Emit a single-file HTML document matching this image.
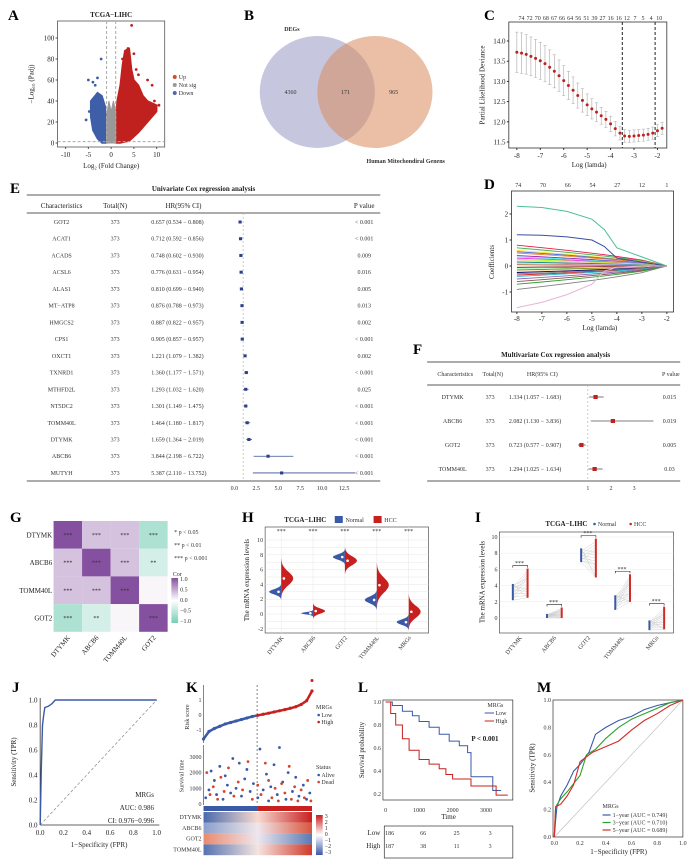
<!DOCTYPE html>
<html><head><meta charset="utf-8">
<style>
html,body{margin:0;padding:0;background:#fff;}
svg{display:block;font-family:"Liberation Serif",serif;}
.pl{font-size:15px;font-weight:bold;}
.t{font-size:7px;fill:#222;}
.s{font-size:6px;fill:#333;}
</style></head>
<body>
<svg id="fig" width="692" height="865" viewBox="0 0 692 865">
<g>
<text class="pl" x="8" y="20">A</text><text class="pl" x="244" y="20">B</text><text class="pl" x="484" y="20">C</text>
<text class="pl" x="10" y="193">E</text><text class="pl" x="484" y="189">D</text><text class="pl" x="413" y="354">F</text>
<text class="pl" x="10" y="522">G</text><text class="pl" x="242" y="522">H</text><text class="pl" x="475" y="522">I</text>
<text class="pl" x="12" y="692">J</text><text class="pl" x="186" y="692">K</text><text class="pl" x="358" y="692">L</text><text class="pl" x="537" y="692">M</text>
</g>
<g id="A"></g>
<g id="B"></g>
<g id="C"></g>
<g id="D"></g>
<g id="E"></g>
<g id="F"></g>
<g id="G"></g>
<g id="H"></g>
<g id="I"></g>
<g id="J"></g>
<g id="K"></g>
<g id="L"></g>
<g id="M"></g>
</svg>
<script>
// ---------- data ----------
const volRed=[[1,0],[1,20],[1.3,40],[2,55],[2.5,75],[3,88],[4,90],[4.5,70],[5,60],[6,55],[7,45],[8,40],[9,38],[10,36],[10,30],[8,20],[6,10],[4,2],[2,0]];
const volBlue=[[-1,0],[-1,20],[-1.3,35],[-2,45],[-3,48],[-4.5,40],[-4.5,25],[-4,12],[-3,4],[-2,0]];
const volGrey=[[-1,0],[-1,25],[-0.5,40],[0,30],[0.5,40],[1,30],[1,0]];
const volRedPts=[[4.5,112],[3.7,90],[5,85],[6,65],[8,60],[9,55],[10.5,36],[7,30],[6.5,48],[5.5,70],[2.5,80],[9.5,40]];
const volBluePts=[[-2.2,80],[-5,60],[-4,58],[-3.5,55],[-4.8,30],[-5.5,22],[-3,62]];
const cvMean=[13.72,13.70,13.67,13.62,13.57,13.51,13.44,13.35,13.25,13.14,13.02,12.90,12.78,12.65,12.53,12.42,12.32,12.24,12.15,12.06,11.95,11.83,11.72,11.65,11.64,11.65,11.66,11.67,11.69,11.72,11.78,11.84];
const cvErr=[0.5,0.5,0.49,0.48,0.47,0.46,0.45,0.43,0.41,0.39,0.37,0.35,0.33,0.31,0.29,0.27,0.25,0.23,0.21,0.2,0.19,0.18,0.17,0.16,0.15,0.15,0.15,0.15,0.15,0.15,0.15,0.15];
const cvTop=["74","72","70","68","67","66","64","56","51","39","27","16","16","12","7","5","4","10"];
const coefStart=[0.8,0.7,0.6,0.55,0.5,0.4,0.35,0.3,0.25,0.2,0.15,0.1,0.05,-0.05,-0.1,-0.15,-0.2,-0.25,-0.3,-0.35,-0.4,-0.5,-0.6,-0.7,-0.9];
const coefGreen=[2.3,2.25,2.1,1.8,1.4,0.7,0.35,0];
const coefBlue=[1.2,1.18,1.12,1.0,0.75,0.3,0.15,0];
const coefPink=[-1.6,-1.4,-1.1,-0.7,-0.2,-0.05,0,0];
const coefX=[-8,-7,-6,-5,-4.5,-4,-3,-2];
const uniNames=["GOT2","ACAT1","ACADS","ACSL6","ALAS1","MT−ATP8","HMGCS2","CPS1","OXCT1","TXNRD1","MTHFD2L","NT5DC2","TOMM40L","DTYMK","ABCB6","MUTYH"];
const uniHR=[0.657,0.712,0.748,0.776,0.810,0.876,0.887,0.905,1.221,1.360,1.293,1.301,1.464,1.659,3.844,5.387];
const uniLo=[0.534,0.592,0.602,0.631,0.699,0.788,0.822,0.857,1.079,1.177,1.032,1.149,1.180,1.364,2.198,2.110];
const uniHi=[0.808,0.856,0.930,0.954,0.940,0.973,0.957,0.957,1.382,1.571,1.620,1.475,1.817,2.019,6.722,13.752];
const uniP=["< 0.001","< 0.001","0.009","0.016","0.005","0.013","0.002","< 0.001","0.002","< 0.001","0.025","< 0.001","< 0.001","< 0.001","< 0.001","< 0.001"];
const uniTicks=[0,2.5,5,7.5,10,12.5];
const mulNames=["DTYMK","ABCB6","GOT2","TOMM40L"];
const mulHR=[1.334,2.082,0.723,1.294];
const mulLo=[1.057,1.130,0.577,1.025];
const mulHi=[1.683,3.836,0.907,1.634];
const mulP=["0.015","0.019","0.005","0.03"];
const mulTicks=[1,2,3];
const corGenes=["DTYMK","ABCB6","TOMM40L","GOT2"];
const corVals=[[1,0.35,0.35,-0.38],[0.35,1,0.35,-0.2],[0.35,0.35,1,0.05],[-0.38,-0.2,0.05,1]];
const corStars=[["***","***","***","***"],["***","***","***","**"],["***","***","***",""],["***","**","","***"]];
const vCats=["DTYMK","ABCB6","GOT2","TOMM40L","MRGs"];
const vNormMed=[3,0.1,7.7,1.9,-1.1];
const vHccMed=[4.8,0.4,7.2,3.9,0.3];
const vNormSd=[0.35,0.15,0.35,0.45,0.35];
const vHccSd=[0.9,0.35,0.6,1.0,0.8];
const pNormLo=[2.2,0,6.9,1,-1.5], pNormHi=[4.2,0.5,8.6,2.8,-0.3];
const pHccLo=[2.5,0,5,2,-1.4], pHccHi=[6.1,1.3,9.8,5.4,1.4];
const rocJ=[[0,0],[0.01,0.45],[0.02,0.8],[0.03,0.88],[0.04,0.94],[0.07,0.95],[0.1,0.97],[0.13,1],[1,1]];
const riskQ=[-1.6,-1.1,-0.9,-0.75,-0.6,-0.5,-0.4,-0.3,-0.2,-0.1,-0.02,0.05,0.12,0.2,0.28,0.36,0.45,0.55,0.7,0.95,1.6];
const survAlive=[[0.02,400],[0.05,900],[0.07,2100],[0.1,1500],[0.12,600],[0.15,2400],[0.18,300],[0.2,1800],[0.22,1200],[0.25,700],[0.27,2900],[0.3,1000],[0.33,2600],[0.35,500],[0.38,1600],[0.4,2200],[0.43,800],[0.46,1300],[0.5,400],[0.52,3500],[0.55,900],[0.58,1900],[0.6,200],[0.62,1100],[0.65,2500],[0.68,600],[0.7,3600],[0.73,1400],[0.76,300],[0.78,2000],[0.82,800],[0.85,1700],[0.88,500],[0.92,1200],[0.95,300],[0.98,700]];
const survDead=[[0.03,2000],[0.06,600],[0.09,1100],[0.13,300],[0.16,1700],[0.19,800],[0.23,2300],[0.28,500],[0.32,1400],[0.36,900],[0.41,2700],[0.45,300],[0.5,1200],[0.53,600],[0.57,2600],[0.6,1500],[0.63,400],[0.66,1000],[0.69,200],[0.72,1300],[0.75,700],[0.79,2400],[0.81,300],[0.84,1100],[0.87,200],[0.9,900],[0.93,400],[0.96,1500],[0.99,200]];
const kmLow=[[0,1],[200,0.97],[500,0.92],[800,0.88],[1000,0.83],[1300,0.78],[1600,0.72],[1900,0.66],[2200,0.62],[2450,0.56],[2550,0.35],[3000,0.35],[3200,0.23],[3450,0.23]];
const kmHigh=[[0,1],[150,0.9],[300,0.8],[500,0.68],[700,0.58],[1000,0.5],[1300,0.46],[1600,0.42],[1800,0.37],[2000,0.33],[2500,0.33],[2550,0.27],[3150,0.27],[3300,0.19],[3650,0.19]];
const kmTicks=[0,1000,2000,3000];
const riskLow=["186","66","25","3"], riskHigh=["187","38","11","3"];
const roc1=[[0,0],[0.01,0.12],[0.02,0.22],[0.05,0.3],[0.1,0.38],[0.15,0.48],[0.2,0.53],[0.27,0.62],[0.32,0.75],[0.4,0.8],[0.5,0.85],[0.6,0.88],[0.7,0.93],[0.8,0.96],[0.9,0.98],[1,1]];
const roc3=[[0,0],[0.01,0.22],[0.05,0.28],[0.1,0.33],[0.2,0.45],[0.25,0.6],[0.32,0.64],[0.4,0.72],[0.5,0.8],[0.6,0.86],[0.7,0.9],[0.8,0.94],[0.9,0.98],[1,1]];
const roc5=[[0,0],[0.01,0.22],[0.05,0.24],[0.1,0.3],[0.15,0.38],[0.2,0.55],[0.3,0.62],[0.4,0.66],[0.5,0.7],[0.6,0.78],[0.7,0.85],[0.8,0.9],[0.9,0.96],[1,1]];
const rocTicks=[0,0.2,0.4,0.6,0.8,1.0];

// ---------- helpers ----------
const NS="http://www.w3.org/2000/svg";
const KX=1.339;
const X=v=>v*KX;
const XATTR={x:1,x1:1,x2:1,cx:1,width:1,rx:1};
function mk(tag,parent,attrs){const e=document.createElementNS(NS,tag);for(const k in attrs){let v=attrs[k];if(XATTR[k]&&typeof v==='number')v=(v*KX).toFixed(2);e.setAttribute(k,v);}parent.appendChild(e);return e;}
function tx(parent,x,y,s,cls,extra){const e=mk('text',parent,Object.assign({x:x,y:y,class:cls||'t'},extra||{}));e.textContent=s;return e;}
function rot(x,y,a){return `translate(${X(x).toFixed(1)},${y}) rotate(${a})`;}
function poly(pts,fx,fy){return pts.map((p,i)=>(i?'L':'M')+X(fx(p[0])).toFixed(1)+','+fy(p[1]).toFixed(1)).join('')+'Z';}
function line(pts,fx,fy){return pts.map((p,i)=>(i?'L':'M')+X(fx(p[0])).toFixed(1)+','+fy(p[1]).toFixed(1)).join('');}
function steps(pts,fx,fy){let d='M'+X(fx(pts[0][0])).toFixed(1)+','+fy(pts[0][1]);for(let i=1;i<pts.length;i++){d+='H'+X(fx(pts[i][0])).toFixed(1)+'V'+fy(pts[i][1]).toFixed(1);}return d;}

// ---------- A volcano ----------
(function(){
const g=document.getElementById('A');
const ax=v=>83+3.4*v, ay=v=>143-1.05*v;
let e=mk('rect',g,{x:43,y:21,width:80,height:126,fill:'none',stroke:'#555','stroke-width':0.8});

e=mk('path',g,{d:poly(volBlue,ax,ay),fill:'#3f5ea8',stroke:'#3f5ea8','stroke-width':1.5});

e=mk('path',g,{d:poly(volRed,ax,ay),fill:'#c0211f',stroke:'#c0211f','stroke-width':1.5});

e=mk('path',g,{d:poly(volGrey,ax,ay),fill:'#999',stroke:'#999','stroke-width':1});

volRedPts.forEach(p=>{const c=mk('circle',g,{cx:ax(p[0]),cy:ay(p[1]),r:1.4,fill:'#c0211f'});

});
volBluePts.forEach(p=>{const c=mk('circle',g,{cx:ax(p[0]),cy:ay(p[1]),r:1.4,fill:'#3f5ea8'});

});
mk('line',g,{x1:ax(-1),x2:ax(-1),y1:21,y2:147,stroke:'#aaa','stroke-dasharray':'3,2'});
mk('line',g,{x1:ax(1),x2:ax(1),y1:21,y2:147,stroke:'#aaa','stroke-dasharray':'3,2'});
mk('line',g,{x1:43,x2:123,y1:ay(1.3),y2:ay(1.3),stroke:'#aaa','stroke-dasharray':'3,2'});
[-10,-5,0,5,10].forEach(v=>{mk('line',g,{x1:ax(v),x2:ax(v),y1:147,y2:149,stroke:'#555'});tx(g,ax(v),157,v,'t',{'text-anchor':'middle'});});
[0,20,40,60,80,100].forEach(v=>{mk('line',g,{x1:41.5,x2:43,y1:ay(v),y2:ay(v),stroke:'#555'});tx(g,40.5,ay(v)+2.5,v,'t',{'text-anchor':'end'});});
tx(g,83,17,'TCGA−LIHC','t',{'text-anchor':'middle','font-weight':'bold','font-size':'8'});
tx(g,83,168,'Log₂ (Fold Change)','t',{'text-anchor':'middle','font-size':'7.5'});
tx(g,0,0,'−Log₁₀ (Padj)','t',{'text-anchor':'middle',transform:rot(25,84,-90),'font-size':'7.5'});
const lg=[['Up','#d24b2c',79],['Not sig','#999',87],['Down','#5467a8',95]];
lg.forEach(l=>{mk('circle',g,{cx:130.5,cy:l[2]-2,r:2,fill:l[1]});tx(g,133.5,l[2],l[0],'s');});
})();

// ---------- B venn ----------
(function(){
const g=document.getElementById('B');
let e=mk('ellipse',g,{cx:237,cy:92,rx:43,ry:56,fill:'#8e8fbf','fill-opacity':0.5});

e=mk('ellipse',g,{cx:280,cy:92,rx:43,ry:56,fill:'#d98a5c','fill-opacity':0.55});

e.setAttribute('ry','56');
tx(g,217,94,'4360','s',{'text-anchor':'middle'});tx(g,258,94,'171','s',{'text-anchor':'middle'});tx(g,294,94,'965','s',{'text-anchor':'middle'});
tx(g,218,31,'DEGs','s',{'text-anchor':'middle',fill:'#3e4f9a','font-weight':'bold'});
tx(g,303,163,'Human Mitochondiral Genens','s',{'text-anchor':'middle',fill:'#c0211f','font-weight':'bold'});
})();

// ---------- C cv ----------
(function(){
const g=document.getElementById('C');
const cx=v=>386+17.5*(v+8), cy=v=>41+40.4*(14-v);
mk('rect',g,{x:380,y:22,width:118,height:126,fill:'none',stroke:'#333','stroke-width':0.8});
cvMean.forEach((m,i)=>{const lam=-8+0.2*i;const x=cx(lam);
const b=mk('line',g,{x1:x,x2:x,y1:cy(m+cvErr[i]),y2:cy(m-cvErr[i]),stroke:'#aaa','stroke-width':0.6});


mk('line',g,{x1:x-1.2,x2:x+1.2,y1:cy(m+cvErr[i]),y2:cy(m+cvErr[i]),stroke:'#aaa','stroke-width':0.5});
mk('line',g,{x1:x-1.2,x2:x+1.2,y1:cy(m-cvErr[i]),y2:cy(m-cvErr[i]),stroke:'#aaa','stroke-width':0.5});
const c=mk('circle',g,{cx:x,cy:cy(m),r:1.5,fill:'#c0211f'});

});
[-3.5,-2.1].forEach(v=>mk('line',g,{x1:cx(v),x2:cx(v),y1:22,y2:148,stroke:'#222','stroke-dasharray':'3,2'}));
[-8,-7,-6,-5,-4,-3,-2].forEach(v=>{mk('line',g,{x1:cx(v),x2:cx(v),y1:148,y2:150,stroke:'#333'});tx(g,cx(v),158,v,'t',{'text-anchor':'middle'});});
[11.5,12,12.5,13,13.5,14].forEach(v=>{mk('line',g,{x1:378.5,x2:380,y1:cy(v),y2:cy(v),stroke:'#333'});tx(g,377.5,cy(v)+2.5,v.toFixed(1),'t',{'text-anchor':'end'});});
cvTop.forEach((s,i)=>tx(g,389.5+i*6.05,20,s,'s',{'text-anchor':'middle','font-size':'6'}));
tx(g,440,167,'Log (lamda)','t',{'text-anchor':'middle'});
tx(g,0,0,'Partial Likelihood Deviance','t',{'text-anchor':'middle',transform:rot(362,85,-90)});
})();

// ---------- D coef ----------
(function(){
const g=document.getElementById('D');
const dx=v=>386+18.67*(v+8), dy=v=>266-26*v;
mk('rect',g,{x:382,y:191,width:121,height:121,fill:'none',stroke:'#333','stroke-width':0.8});
const cols=['#e6194b','#3cb44b','#ffe119','#4363d8','#f58231','#911eb4','#46f0f0','#f032e6','#bcf60c','#fabebe','#008080','#e6beff','#9a6324','#800000','#aaffc3','#808000','#ffd8b1','#000075','#808080','#d62728','#17becf','#9467bd','#8c564b','#2ca02c','#7f7f7f'];
coefStart.forEach((c,i)=>{const pts=coefX.map(x=>[x,c*Math.pow((-2-x)/6,0.7)]);
const p=mk('path',g,{d:line(pts,dx,dy),fill:'none',stroke:cols[i%cols.length],'stroke-width':0.9});

});
[[coefGreen,'#4fbf9a'],[coefBlue,'#3a4fa0'],[coefPink,'#e8b4d8']].forEach(a=>{
const p=mk('path',g,{d:line(coefX.map((x,i)=>[x,a[0][i]]),dx,dy),fill:'none',stroke:a[1],'stroke-width':1});

});
[-8,-7,-6,-5,-4,-3,-2].forEach(v=>{mk('line',g,{x1:dx(v),x2:dx(v),y1:312,y2:314,stroke:'#333'});tx(g,dx(v),321,v,'t',{'text-anchor':'middle'});});
[-1,0,1,2].forEach(v=>{mk('line',g,{x1:380.5,x2:382,y1:dy(v),y2:dy(v),stroke:'#333'});tx(g,379.5,dy(v)+2.5,v,'t',{'text-anchor':'end'});});
['74','70','66','54','27','12','1'].forEach((s,i)=>tx(g,387+i*18.5,187,s,'s',{'text-anchor':'middle'}));
tx(g,448,330,'Log (lamda)','t',{'text-anchor':'middle'});
tx(g,0,0,'Coefficients','t',{'text-anchor':'middle',transform:rot(369,262,-90)});
})();

// ---------- E univariate ----------
(function(){
const g=document.getElementById('E');
const ex=v=>175+6.56*v, ry=i=>222+16.73*i;
tx(g,152,191,'Univariate Cox regression analysis','t',{'text-anchor':'middle','font-size':'8.5','font-weight':'bold'});
mk('line',g,{x1:20,x2:284,y1:195,y2:195,stroke:'#222','stroke-width':0.8});
mk('line',g,{x1:20,x2:284,y1:213,y2:213,stroke:'#222','stroke-width':0.8});
mk('line',g,{x1:20,x2:284,y1:481,y2:481,stroke:'#222','stroke-width':0.8});
tx(g,46,208,'Characteristics','t',{'text-anchor':'middle'});tx(g,86,208,'Total(N)','t',{'text-anchor':'middle'});
tx(g,137,208,'HR(95% CI)','t',{'text-anchor':'middle'});tx(g,272,208,'P value','t',{'text-anchor':'middle'});
mk('line',g,{x1:ex(1),x2:ex(1),y1:213,y2:481,stroke:'#aaa','stroke-dasharray':'2,2','stroke-width':0.6});
uniNames.forEach((n,i)=>{const y=ry(i);
tx(g,46,y+2,n,'s',{'text-anchor':'middle'});tx(g,86,y+2,'373','s',{'text-anchor':'middle'});
tx(g,113,y+2,uniHR[i].toFixed(3)+' ('+uniLo[i].toFixed(3)+' − '+uniHi[i].toFixed(3)+')','s');
tx(g,272,y+2,uniP[i],'s',{'text-anchor':'middle'});
const l=mk('line',g,{x1:ex(uniLo[i]),x2:ex(uniHi[i]),y1:y,y2:y,stroke:'#3a4f8f','stroke-width':0.8});


const r=mk('rect',g,{x:ex(uniHR[i])-1.2,y:y-1.5,width:2.4,height:3,fill:'#2d3f8a'});

});
uniTicks.forEach(v=>{tx(g,ex(v),490,v.toFixed(1),'s',{'text-anchor':'middle'});});
})();

// ---------- F multivariate ----------
(function(){
const g=document.getElementById('F');
const fx=v=>439+17.3*(v-1), ry=i=>397+24*i;
tx(g,415,357,'Multivariate Cox regression analysis','t',{'text-anchor':'middle','font-size':'7.5','font-weight':'bold'});
mk('line',g,{x1:319,x2:508,y1:362,y2:362,stroke:'#222','stroke-width':0.8});
mk('line',g,{x1:319,x2:508,y1:385,y2:385,stroke:'#222','stroke-width':0.8});
mk('line',g,{x1:319,x2:508,y1:481,y2:481,stroke:'#222','stroke-width':0.8});
tx(g,340,376,'Characteristics','s',{'text-anchor':'middle'});tx(g,368,376,'Total(N)','s',{'text-anchor':'middle'});
tx(g,405,376,'HR(95% CI)','s',{'text-anchor':'middle'});tx(g,501,376,'P value','s',{'text-anchor':'middle'});
mk('line',g,{x1:fx(1),x2:fx(1),y1:385,y2:481,stroke:'#aaa','stroke-dasharray':'2,2','stroke-width':0.6});
mulNames.forEach((n,i)=>{const y=ry(i);
tx(g,338,y+2,n,'s',{'text-anchor':'middle'});tx(g,366,y+2,'373','s',{'text-anchor':'middle'});
tx(g,380,y+2,mulHR[i].toFixed(3)+' ('+mulLo[i].toFixed(3)+' − '+mulHi[i].toFixed(3)+')','s');
tx(g,500,y+2,mulP[i],'s',{'text-anchor':'middle'});
const l=mk('line',g,{x1:fx(mulLo[i]),x2:fx(mulHi[i]),y1:y,y2:y,stroke:'#555','stroke-width':0.8});


const r=mk('rect',g,{x:fx(mulHR[i])-1.6,y:y-2,width:3.2,height:4,fill:'#c0211f'});

});
mulTicks.forEach(v=>tx(g,fx(v),490,v,'s',{'text-anchor':'middle'}));
})();

// ---------- G correlation ----------
(function(){
const g=document.getElementById('G');
const x0=40,y0=521,cw=21.3,ch=27.7;
function col(v){if(v>=0){const t=v;return `rgb(${Math.round(255-(255-134)*t)},${Math.round(255-(255-80)*t)},${Math.round(255-(255-160)*t)})`;}const t=Math.min(-v*1.6,1);return `rgb(${Math.round(255-(255-120)*t)},${Math.round(255-(255-205)*t)},${Math.round(255-(255-180)*t)})`;}
corVals.forEach((row,i)=>row.forEach((v,j)=>{
const r=mk('rect',g,{x:x0+j*cw,y:y0+i*ch,width:cw,height:ch,fill:col(v)});


tx(g,x0+j*cw+cw/2,y0+i*ch+ch/2+2,corStars[i][j],'s',{'text-anchor':'middle'});}));
corGenes.forEach((n,i)=>{tx(g,39,y0+i*ch+ch/2+2.5,n,'t',{'text-anchor':'end'});
tx(g,0,0,n,'t',{'text-anchor':'end',transform:rot(x0+i*cw+cw/2+2,y0+4*ch+6,-50)});});
tx(g,130,534,'* p < 0.05','s',{'font-size':'5'});tx(g,130,547,'** p < 0.01','s',{'font-size':'5'});tx(g,130,560,'*** p < 0.001','s',{'font-size':'5'});
tx(g,129,576,'Cor','s',{'font-size':'5'});
const d=mk('defs',g,{});const lg=mk('linearGradient',d,{id:'corg',x1:'0',y1:'0',x2:'0',y2:'1'});
mk('stop',lg,{offset:0,'stop-color':'#86509f'});mk('stop',lg,{offset:0.5,'stop-color':'#fff'});mk('stop',lg,{offset:1,'stop-color':'#78cdb4'});
mk('rect',g,{x:128,y:578,width:5,height:45,fill:'url(#corg)'});
['1.0','0.5','0.0','−0.5','−1.0'].forEach((s,i)=>tx(g,134.5,581+i*10.5,s,'s',{'font-size':'5'}));
})();

// ---------- H violins ----------
(function(){
const g=document.getElementById('H');
const hx=i=>210+23.8*i, hy=v=>614-7.4*v;
mk('rect',g,{x:198,y:527,width:122,height:106,fill:'#fff',stroke:'#333','stroke-width':0.6});
for(let v=-2;v<=10;v+=1){mk('line',g,{x1:198,x2:320,y1:hy(v),y2:hy(v),stroke:'#e6e6e6','stroke-width':0.5});}
vCats.forEach((c,i)=>{mk('line',g,{x1:hx(i),x2:hx(i),y1:527,y2:633,stroke:'#e6e6e6','stroke-width':0.5});});
function half(i,m,sd,dir,color){let pts=[];for(let k=-3;k<=3;k+=0.25){const v=m+k*sd;const w=9*Math.exp(-k*k/2);pts.push([X(hx(i)+dir*w),hy(v)]);}
const d='M'+X(hx(i)).toFixed(1)+','+hy(m-3*sd)+pts.map(p=>'L'+p[0].toFixed(1)+','+p[1].toFixed(1)).join('')+'L'+X(hx(i)).toFixed(1)+','+hy(m+3*sd)+'Z';
return mk('path',g,{d:d,fill:color});}
vCats.forEach((c,i)=>{
const a=half(i,vNormMed[i],vNormSd[i],-1,'#3a5aa8');


const b=half(i,vHccMed[i],vHccSd[i],1,'#c8201f');


mk('circle',g,{cx:hx(i)-2,cy:hy(vNormMed[i]),r:1.3,fill:'#fff'});
mk('circle',g,{cx:hx(i)+2,cy:hy(vHccMed[i]),r:1.3,fill:'#fff'});
tx(g,hx(i),533,'***','s',{'text-anchor':'middle','font-size':'5'});
tx(g,0,0,c,'s',{'text-anchor':'end',transform:rot(hx(i)+2,638,-50)});});
[-2,0,2,4,6,8,10].forEach(v=>tx(g,196.5,hy(v)+2,v,'s',{'text-anchor':'end'}));
tx(g,0,0,'The mRNA expression levels','t',{'text-anchor':'middle',transform:rot(186,580,-90)});
tx(g,228,522,'TCGA−LIHC','t',{'text-anchor':'middle','font-weight':'bold'});
mk('rect',g,{x:250,y:516,width:6,height:7,fill:'#3a5aa8'});tx(g,258,522,'Normal','s');
mk('rect',g,{x:279,y:516,width:6,height:7,fill:'#c8201f'});tx(g,287,522,'HCC','s');
})();

// ---------- I paired ----------
(function(){
const g=document.getElementById('I');
const ix=i=>388+25.5*i, iy=v=>618-8.1*v;
mk('rect',g,{x:373,y:532,width:130,height:101,fill:'#fff',stroke:'#333','stroke-width':0.6});
for(let v=0;v<=10;v+=2){mk('line',g,{x1:373,x2:503,y1:iy(v),y2:iy(v),stroke:'#ececec','stroke-width':0.5});tx(g,371.5,iy(v)+2,v,'s',{'text-anchor':'end'});}
vCats.forEach((c,i)=>{const n=14;
for(let k=0;k<=n;k++){const a=pNormLo[i]+(pNormHi[i]-pNormLo[i])*k/n, b=pHccLo[i]+(pHccHi[i]-pHccLo[i])*((k*5)%n)/n;
mk('line',g,{x1:ix(i)-5,x2:ix(i)+6,y1:iy(a),y2:iy(b),stroke:'#c8c8c8','stroke-width':0.4});}
const a=mk('line',g,{x1:ix(i)-5,x2:ix(i)-5,y1:iy(pNormLo[i]),y2:iy(pNormHi[i]),stroke:'#3a5aa8','stroke-width':2});


const b=mk('line',g,{x1:ix(i)+6,x2:ix(i)+6,y1:iy(pHccLo[i]),y2:iy(pHccHi[i]),stroke:'#d42a25','stroke-width':2});


const top=Math.max(pNormHi[i],pHccHi[i]);
mk('path',g,{d:`M${X(ix(i)-5).toFixed(1)},${iy(top)-1}v-2H${X(ix(i)+6).toFixed(1)}v2`,fill:'none',stroke:'#222','stroke-width':0.6});
tx(g,ix(i),iy(top)-3.5,'***','s',{'text-anchor':'middle','font-size':'5'});
tx(g,0,0,c,'s',{'text-anchor':'end',transform:rot(ix(i)+2,638,-50)});});
tx(g,0,0,'The mRNA expression levels','t',{'text-anchor':'middle',transform:rot(362,582,-90)});
tx(g,423,526,'TCGA−LIHC','t',{'text-anchor':'middle','font-weight':'bold'});
mk('circle',g,{cx:444,cy:524,r:1.3,fill:'#3a5aa8'});tx(g,446.5,526,'Normal','s');
mk('circle',g,{cx:471,cy:524,r:1.3,fill:'#d42a25'});tx(g,473.5,526,'HCC','s');
})();

// ---------- J ROC ----------
(function(){
const g=document.getElementById('J');
const jx=v=>30+87*v, jy=v=>825-125*v;
mk('line',g,{x1:30,x2:30,y1:698,y2:825,stroke:'#333','stroke-width':0.8});
mk('line',g,{x1:30,x2:119,y1:825,y2:825,stroke:'#333','stroke-width':0.8});
mk('line',g,{x1:jx(0),x2:jx(1),y1:jy(0),y2:jy(1),stroke:'#888','stroke-dasharray':'3,2','stroke-width':0.7});
const p=mk('path',g,{d:line(rocJ,jx,jy),fill:'none',stroke:'#3a5aa8','stroke-width':1.4});


rocTicks.forEach(v=>{tx(g,jx(v),835,v.toFixed(1),'t',{'text-anchor':'middle'});tx(g,28,jy(v)+2.5,v.toFixed(1),'t',{'text-anchor':'end'});});
tx(g,74,847,'1−Specificity (FPR)','t',{'text-anchor':'middle','font-size':'8'});
tx(g,0,0,'Sensitivity (TPR)','t',{'text-anchor':'middle','font-size':'8',transform:rot(12,762,-90)});
tx(g,115,797,'MRGs','t',{'text-anchor':'end'});tx(g,115,810,'AUC: 0.986','t',{'text-anchor':'end'});tx(g,115,823,'CI: 0.976−0.996','t',{'text-anchor':'end'});
})();

// ---------- K risk ----------
(function(){
const g=document.getElementById('K');
const x0=152,x1=233, kx=f=>x0+(x1-x0)*f, ky=v=>715-15*v, sy=v=>804-0.0157*v;
mk('line',g,{x1:152,x2:152,y1:685,y2:743,stroke:'#333','stroke-width':0.6});
mk('line',g,{x1:152,x2:152,y1:745,y2:805,stroke:'#333','stroke-width':0.6});
mk('line',g,{x1:192,x2:192,y1:685,y2:805,stroke:'#333','stroke-dasharray':'2,2','stroke-width':0.6});
mk('path',g,{d:line(riskQ.slice(0,11).map((v,i)=>[i/20,v]),kx,ky),fill:'none',stroke:'#3a5aa8','stroke-width':2.5});
mk('path',g,{d:line(riskQ.slice(10).map((v,i)=>[(i+10)/20,v]),kx,ky),fill:'none',stroke:'#c8201f','stroke-width':2.5});
riskQ.forEach((v,i)=>{const f=i/(riskQ.length-1);
const c=mk('circle',g,{cx:kx(f),cy:ky(v),r:1.6,fill:f<0.5?'#3a5aa8':'#c8201f'});

});
mk('circle',g,{cx:kx(1),cy:ky(2.3),r:1.5,fill:'#c8201f'});
survAlive.forEach(p=>{const c=mk('circle',g,{cx:kx(p[0]),cy:sy(p[1]),r:1.4,fill:'#3a5aa8'});

});
survDead.forEach(p=>{const c=mk('circle',g,{cx:kx(p[0]),cy:sy(p[1]),r:1.4,fill:'#d8432c'});

});
[[-1,'-1'],[0,'0'],[1,'1']].forEach(t=>tx(g,150.5,ky(t[0])+2,t[1],'s',{'text-anchor':'end'}));
[0,1000,2000,3000].forEach(v=>tx(g,150.5,sy(v)+2,v,'s',{'text-anchor':'end','font-size':'5'}));
tx(g,0,0,'Risk score','s',{'text-anchor':'middle',transform:rot(141,717,-90)});
tx(g,0,0,'Survival time','s',{'text-anchor':'middle',transform:rot(137,776,-90)});
tx(g,236,709,'MRGs','s',{'font-size':'5'});
mk('circle',g,{cx:238,cy:715,r:1.3,fill:'#3a5aa8'});tx(g,240,717,'Low','s',{'font-size':'5'});
mk('circle',g,{cx:238,cy:722,r:1.3,fill:'#c8201f'});tx(g,240,724,'High','s',{'font-size':'5'});
tx(g,236,769,'Status','s',{'font-size':'5'});
mk('circle',g,{cx:238,cy:775,r:1.3,fill:'#3a5aa8'});tx(g,240,777,'Alive','s',{'font-size':'5'});
mk('circle',g,{cx:238,cy:782,r:1.3,fill:'#d8432c'});tx(g,240,784,'Dead','s',{'font-size':'5'});
mk('rect',g,{x:152,y:806,width:40,height:5,fill:'#3a5aa8'});mk('rect',g,{x:192,y:806,width:41,height:5,fill:'#c8201f'});
const d=mk('defs',g,{});
const gr=[['kg1','#4a6aac','#f6d9d0','#c8201f'],['kg2','#8aa0cc','#f0e6ea','#d9563e'],['kg3','#e98a6d','#eee6ee','#5a7ab4'],['kg4','#5572b0','#f4e4e0','#d03a2a']];
gr.forEach(a=>{const lg=mk('linearGradient',d,{id:a[0]});mk('stop',lg,{offset:0,'stop-color':a[1]});mk('stop',lg,{offset:0.5,'stop-color':a[2]});mk('stop',lg,{offset:1,'stop-color':a[3]});});
['DTYMK','ABCB6','GOT2','TOMM40L'].forEach((n,i)=>{
const r=mk('rect',g,{x:152,y:812+i*10.8,width:81,height:10.8,fill:`url(#kg${i+1})`});


tx(g,150.5,819+i*10.8,n,'s',{'text-anchor':'end','font-size':'5'});});
const lg2=mk('linearGradient',d,{id:'kleg',x1:'0',y1:'0',x2:'0',y2:'1'});mk('stop',lg2,{offset:0,'stop-color':'#c8201f'});mk('stop',lg2,{offset:0.5,'stop-color':'#fff'});mk('stop',lg2,{offset:1,'stop-color':'#3a5aa8'});
mk('rect',g,{x:236,y:815,width:5,height:40,fill:'url(#kleg)'});
['3','2','1','0','−1','−2','−3'].forEach((s,i)=>tx(g,242.5,818+i*6,s,'s',{'font-size':'4.5'}));
})();

// ---------- L KM ----------
(function(){
const g=document.getElementById('L');
const lx=v=>288+0.025*v, ly=v=>702+115*(1-v);
mk('rect',g,{x:286,y:700,width:97,height:100,fill:'none',stroke:'#333','stroke-width':0.7});
const a=mk('path',g,{d:steps(kmLow,lx,ly),fill:'none',stroke:'#3a5aa8','stroke-width':1});


const b=mk('path',g,{d:steps(kmHigh,lx,ly),fill:'none',stroke:'#c8201f','stroke-width':1});


kmTicks.forEach(v=>tx(g,lx(v),812,v,'s',{'text-anchor':'middle'}));
[0.2,0.4,0.6,0.8,1.0].forEach(v=>tx(g,284.5,ly(v)+2,v.toFixed(1),'s',{'text-anchor':'end'}));
tx(g,335,819,'Time','t',{'text-anchor':'middle'});
tx(g,0,0,'Survival probability','t',{'text-anchor':'middle',transform:rot(272,750,-90)});
tx(g,364,707,'MRGs','s');
mk('line',g,{x1:362,x2:369,y1:713,y2:713,stroke:'#3a5aa8'});tx(g,370,715,'Low','s');
mk('line',g,{x1:362,x2:369,y1:721,y2:721,stroke:'#c8201f'});tx(g,370,723,'High','s');
tx(g,352,741,'P < 0.001','t',{'font-weight':'bold','font-size':'7.5'});
mk('rect',g,{x:287,y:826,width:96,height:32,fill:'none',stroke:'#333','stroke-width':0.7});
tx(g,284,835,'Low','t',{'text-anchor':'end',fill:'#3a5aa8'});tx(g,284,848,'High','t',{'text-anchor':'end',fill:'#c8201f'});
riskLow.forEach((s,i)=>tx(g,lx(kmTicks[i])+3,835,s,'s',{'text-anchor':'middle',fill:'#3a5aa8'}));
riskHigh.forEach((s,i)=>tx(g,lx(kmTicks[i])+3,848,s,'s',{'text-anchor':'middle',fill:'#c8201f'}));
})();

// ---------- M time ROC ----------
(function(){
const g=document.getElementById('M');
const mx=v=>414+96*v, my=v=>837-137*v;
mk('rect',g,{x:413,y:700,width:97,height:137,fill:'none',stroke:'#333','stroke-width':0.7});
mk('line',g,{x1:mx(0),x2:mx(1),y1:my(0),y2:my(1),stroke:'#bbb','stroke-width':0.6});
[[roc1,'#3a5aa8','roc-1year'],[roc3,'#2ca02c','roc-3year'],[roc5,'#d42a25','roc-5year']].forEach(a=>{
const p=mk('path',g,{d:line(a[0],mx,my),fill:'none',stroke:a[1],'stroke-width':1.1});

});
rocTicks.forEach(v=>{tx(g,mx(v),845,v.toFixed(1),'s',{'text-anchor':'middle'});tx(g,411.5,my(v)+2,v.toFixed(1),'s',{'text-anchor':'end'});});
tx(g,462,854,'1−Specificity (FPR)','t',{'text-anchor':'middle'});
tx(g,0,0,'Sensitivity (TPR)','t',{'text-anchor':'middle',transform:rot(399,768,-90)});
tx(g,450,808,'MRGs','s');
[['1−year (AUC = 0.749)','#3a5aa8'],['3−year (AUC = 0.710)','#2ca02c'],['5−year (AUC = 0.689)','#d42a25']].forEach((l,i)=>{
mk('line',g,{x1:450,x2:456,y1:815+i*7.5,y2:815+i*7.5,stroke:l[1],'stroke-width':1.2});tx(g,457.5,817+i*7.5,l[0],'s',{'font-size':'5.5'});});
})();
</script>
</body></html>
